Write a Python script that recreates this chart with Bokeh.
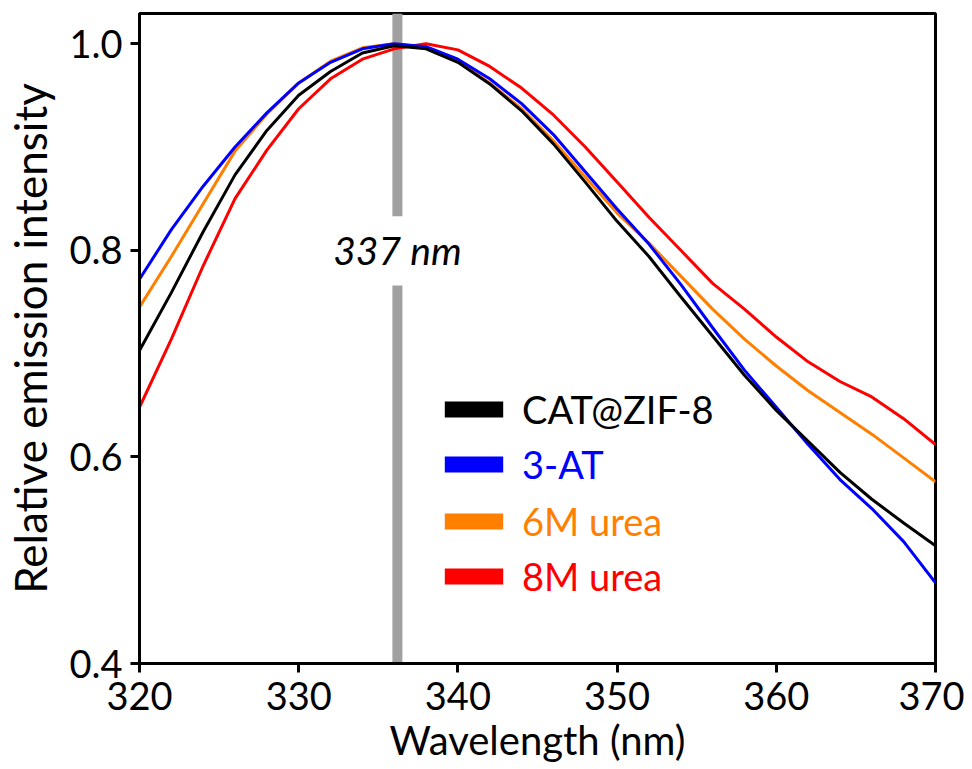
from bokeh.plotting import figure
from bokeh.models import Range1d, FixedTicker, Legend, LegendItem, Label
from bokeh.embed import file_html
from bokeh.resources import INLINE

# ---- data ----
wavelength = [320, 322, 324, 326, 328, 330, 332, 334, 336, 338, 340, 342, 344,
              346, 348, 350, 352, 354, 356, 358, 360, 362, 364, 366, 368, 370]

cat_zif8 = [0.703, 0.759, 0.818, 0.873, 0.916, 0.950, 0.973, 0.991, 0.998, 0.995,
            0.982, 0.961, 0.935, 0.903, 0.866, 0.828, 0.794, 0.755, 0.717, 0.679,
            0.645, 0.615, 0.585, 0.559, 0.536, 0.514]
at3 = [0.772, 0.820, 0.862, 0.900, 0.933, 0.962, 0.982, 0.995, 1.000, 0.997,
       0.985, 0.966, 0.942, 0.912, 0.876, 0.840, 0.806, 0.767, 0.725, 0.684,
       0.648, 0.612, 0.578, 0.550, 0.518, 0.478]
urea6 = [0.745, 0.794, 0.845, 0.896, 0.932, 0.962, 0.983, 0.996, 1.000, 0.996,
         0.983, 0.962, 0.937, 0.906, 0.871, 0.836, 0.807, 0.775, 0.743, 0.714,
         0.688, 0.664, 0.643, 0.622, 0.599, 0.576]
urea8 = [0.648, 0.714, 0.785, 0.850, 0.897, 0.937, 0.966, 0.985, 0.995, 1.000,
         0.994, 0.978, 0.957, 0.931, 0.900, 0.866, 0.832, 0.800, 0.768, 0.743,
         0.716, 0.692, 0.673, 0.658, 0.637, 0.612]

series_names = ["CAT@ZIF-8", "3-AT", "6M urea", "8M urea"]
series_values = [cat_zif8, at3, urea6, urea8]
series_colors = ["#000000", "#0000FF", "#FF8000", "#FF0000"]
draw_order = [3, 2, 1, 0]   # red at the back, black on top

x_ticks = [320, 330, 340, 350, 360, 370]
y_ticks = [0.4, 0.6, 0.8, 1.0]
y_tick_labels = {0.4: "0.4", 0.6: "0.6", 0.8: "0.8", 1.0: "1.0"}

peak_x = 336.2
peak_label = "337 nm"
peak_label_y = 0.80
peak_gap = (0.766, 0.833)

FONT = "Lato"
NAN = float("nan")

p = figure(width=964, height=769,
           x_range=Range1d(320, 370), y_range=Range1d(0.4, 1.0292),
           output_backend="svg", toolbar_location=None,
           min_border_left=139, min_border_right=29,
           min_border_top=13, min_border_bottom=106)

p.background_fill_color = "white"
p.border_fill_color = "white"
p.outline_line_color = "black"
p.outline_line_width = 3
p.xgrid.visible = False
p.ygrid.visible = False

# grey marker line with a gap for its label
y_top = p.y_range.end
y_bot = p.y_range.start
p.segment(x0=[peak_x, peak_x], x1=[peak_x, peak_x],
          y0=[peak_gap[1], y_bot], y1=[y_top, peak_gap[0]],
          line_color="#A0A0A0", line_width=10)

p.add_layout(Label(x=peak_x, y=peak_label_y, text=peak_label,
                   text_align="center", text_baseline="middle",
                   text_font=FONT, text_font_style="italic",
                   text_font_size="39px", text_color="black"))

for i in draw_order:
    p.line(wavelength, series_values[i], line_color=series_colors[i], line_width=3)

# legends (one per entry so each label gets its own colour)
legend_y = [231, 176, 119, 64]
for i, name in enumerate(series_names):
    dummy = p.quad(left=[NAN], right=[NAN], top=[NAN], bottom=[NAN],
                   fill_color=series_colors[i], line_alpha=0)
    leg = Legend(items=[LegendItem(label=name, renderers=[dummy])],
                 location=(298, legend_y[i]),
                 label_text_color=series_colors[i],
                 label_text_font=FONT, label_text_font_size="38px",
                 glyph_width=73, glyph_height=20, label_height=20,
                 label_standoff=12, padding=0, margin=0, spacing=0,
                 border_line_alpha=0, background_fill_alpha=0)
    p.add_layout(leg)

for ax in (p.xaxis[0], p.yaxis[0]):
    ax.axis_line_width = 3
    ax.axis_line_color = "black"
    ax.major_tick_line_width = 3
    ax.major_tick_line_color = "black"
    ax.major_tick_out = 9
    ax.major_tick_in = 0
    ax.minor_tick_line_color = None
    ax.major_label_text_font = FONT
    ax.major_label_text_font_size = "38px"
    ax.major_label_text_color = "black"
    ax.axis_label_text_font = FONT
    ax.axis_label_text_font_style = "normal"
    ax.axis_label_text_color = "black"

p.xaxis.axis_label_text_font_size = "40px"
p.yaxis.axis_label_text_font_size = "44px"
p.xaxis.ticker = FixedTicker(ticks=x_ticks)
p.yaxis.ticker = FixedTicker(ticks=y_ticks)
p.yaxis.major_label_overrides = y_tick_labels
p.xaxis.axis_label = "Wavelength (nm)"
p.yaxis.axis_label = "Relative emission intensity"
p.xaxis.major_label_standoff = 9
p.yaxis.major_label_standoff = 8
p.xaxis.axis_label_standoff = 3
p.yaxis.axis_label_standoff = 10

open("out.html", "w").write(file_html(p, INLINE))
